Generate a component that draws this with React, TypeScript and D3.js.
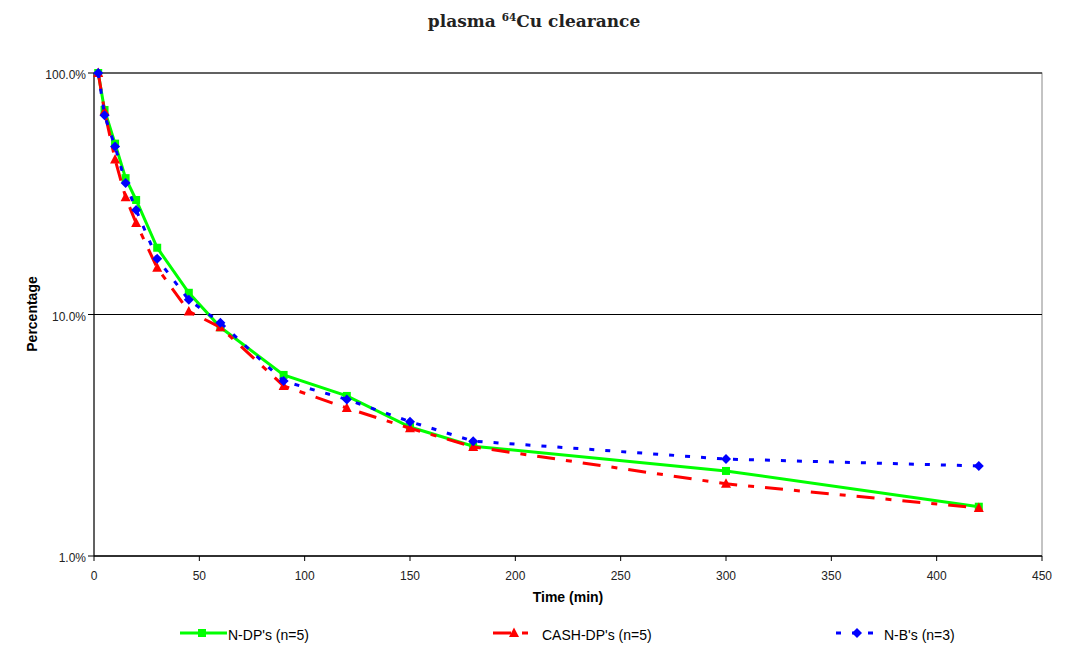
import React from "react";
import * as d3 from "d3";

const times = [2, 5, 10, 15, 20, 30, 45, 60, 90, 120, 150, 180, 300, 420];
const ndp = [100, 70.3, 51.0, 36.7, 29.8, 18.9, 12.3, 8.85, 5.62, 4.6, 3.42, 2.85, 2.25, 1.6];
const cash = [100, 69.5, 43.8, 30.6, 23.9, 15.6, 10.3, 8.85, 5.06, 4.1, 3.38, 2.83, 1.99, 1.58];
const nb = [100, 66.8, 49.6, 35.0, 27.1, 17.0, 11.5, 9.25, 5.3, 4.45, 3.6, 2.99, 2.52, 2.36];
const xTicks = [0, 50, 100, 150, 200, 250, 300, 350, 400, 450];
const yTicks = [1, 10, 100];
const seriesNames = ["N-DP's (n=5)", "CASH-DP's (n=5)", "N-B's (n=3)"];

const W = 1068, H = 645;
const L = 94, R = 1042, T = 73, B = 556;

export default function App() {
  const x = d3.scaleLinear().domain([0, 450]).range([L, R]);
  const y = d3.scaleLog().domain([1, 100]).range([B, T]);
  const line = d3.line<[number, number]>().x(d => x(d[0])).y(d => y(d[1]));
  const mk = (vals: number[]) => times.map((t, i) => [t, vals[i]] as [number, number]);
  const series = [
    { name: seriesNames[0], vals: ndp, color: "#00ff00", dash: undefined as string | undefined, marker: "square" },
    { name: seriesNames[1], vals: cash, color: "#ff0000", dash: "18,11,6,11", marker: "triangle" },
    { name: seriesNames[2], vals: nb, color: "#0000ff", dash: "5,11", marker: "diamond" },
  ];
  const marker = (type: string, cx: number, cy: number, color: string, key: any) => {
    if (type === "square") return <rect key={key} x={cx - 4} y={cy - 4} width={8} height={8} fill={color} />;
    if (type === "triangle") return <path key={key} d={`M${cx},${cy - 5.5}L${cx + 5},${cy + 4}L${cx - 5},${cy + 4}Z`} fill={color} />;
    return <path key={key} d={`M${cx},${cy - 5}L${cx + 5},${cy}L${cx},${cy + 5}L${cx - 5},${cy}Z`} fill={color} />;
  };
  const legend = [
    { x: 180, len: 47, m: 22, tx: 228 },
    { x: 493, len: 37, m: 21, tx: 542 },
    { x: 836, len: 38, m: 21, tx: 884 },
  ];
  const font = "Liberation Sans, Arial, sans-serif";
  return (
    <svg width={W} height={H} style={{ position: "absolute", left: 0, top: 0, background: "#fff" }}>
      <text x={534} y={27} textAnchor="middle" fontFamily="DejaVu Serif, serif" fontWeight="bold" fontSize={17} fill="#222">
        plasma <tspan fontSize={10.5} dy={-6.5}>64</tspan><tspan dy={6.5}>Cu clearance</tspan>
      </text>
      <rect x={L} y={T} width={R - L} height={B - T} fill="none" stroke="#888" strokeWidth={1} />
      {yTicks.map(v => (
        <g key={v}>
          <line x1={L} x2={R} y1={y(v)} y2={y(v)} stroke="#000" strokeWidth={1} />
          <line x1={L - 6} x2={L} y1={y(v)} y2={y(v)} stroke="#000" />
          <text x={L - 8} y={y(v) + 6} textAnchor="end" fontFamily={font} fontSize={12} fill="#222">{v.toFixed(1)}%</text>
        </g>
      ))}
      <line x1={L} x2={L} y1={T} y2={B} stroke="#000" />
      <line x1={L} x2={R} y1={B} y2={B} stroke="#000" />
      {xTicks.map(v => (
        <g key={v}>
          <line x1={x(v)} x2={x(v)} y1={B} y2={B + 5} stroke="#000" />
          <text x={x(v)} y={B + 24} textAnchor="middle" fontFamily={font} fontSize={12} fill="#222">{v}</text>
        </g>
      ))}
      <text x={568} y={602} textAnchor="middle" fontFamily={font} fontWeight="bold" fontSize={14}>Time (min)</text>
      <text transform={`translate(37,314) rotate(-90)`} textAnchor="middle" fontFamily={font} fontWeight="bold" fontSize={14}>Percentage</text>
      {series.map((s, si) => (
        <g key={si}>
          <path d={line(mk(s.vals)) || ""} fill="none" stroke={s.color} strokeWidth={3} strokeDasharray={s.dash} />
          {times.map((t, i) => marker(s.marker, x(t), y(s.vals[i]), s.color, i))}
        </g>
      ))}
      {series.map((s, si) => (
        <g key={"l" + si}>
          <line x1={legend[si].x} x2={legend[si].x + legend[si].len} y1={633} y2={633} stroke={s.color} strokeWidth={3} strokeDasharray={s.dash} />
          {marker(s.marker, legend[si].x + legend[si].m, 633, s.color, "m")}
          <text x={legend[si].tx} y={640} fontFamily={font} fontSize={14} fill="#000">{s.name}</text>
        </g>
      ))}
    </svg>
  );
}
